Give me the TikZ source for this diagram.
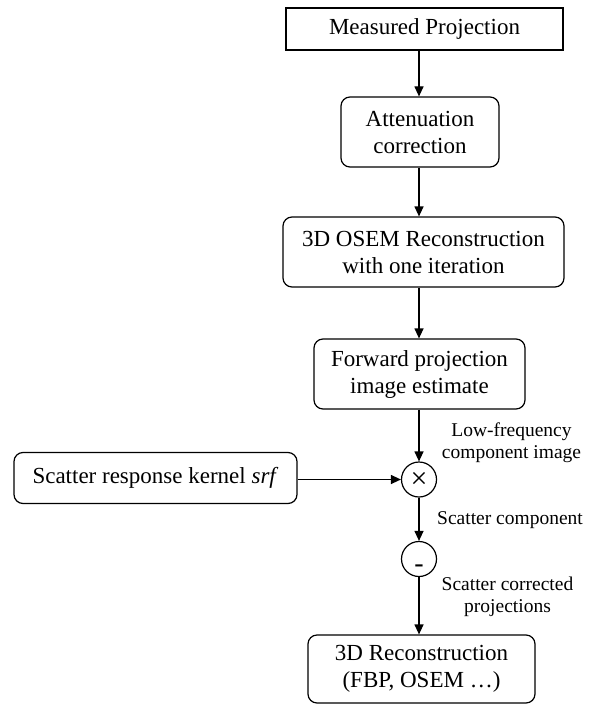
\documentclass[tikz,border=0pt]{standalone}
\usepackage{fontspec}
\setmainfont{Liberation Serif}
\usetikzlibrary{arrows.meta}
\begin{document}
\begin{tikzpicture}[x=1pt,y=-1pt,
  boxtext/.style={font=\fontsize{23}{27}\selectfont, align=center, inner sep=0pt},
  sqbox/.style={boxtext, draw, line width=1.2pt},
  rbox/.style={boxtext, draw, line width=1.2pt, rounded corners=9pt},
  lbl/.style={font=\fontsize{19.5}{21.5}\selectfont, align=center, inner sep=0pt},
  opnode/.style={draw, circle, line width=1.2pt, minimum size=35pt, inner sep=0pt, text depth=0pt},
  arr/.style={line width=1.2pt, -{Triangle[length=10pt,width=9pt]}}]
\useasboundingbox (0,0) rectangle (599,706);
\coordinate (col) at (419,0);
\node[sqbox, minimum width=277pt, minimum height=42pt] (mp) at (424.5,29) {Measured Projection};
\node[rbox, minimum width=158pt, minimum height=70pt] (att) at (420,132) {Attenuation\\correction};
\node[rbox, minimum width=281pt, minimum height=70pt] (osem) at (423.5,252) {3D OSEM Reconstruction\\with one iteration};
\node[rbox, minimum width=211pt, minimum height=70pt] (fwd) at (419.5,374) {Forward projection\\image estimate};
\node[opnode, font=\fontsize{30}{30}\selectfont, text height=17.4pt] (mul) at (419,479.5) {×};
\node[rbox, minimum width=283pt, minimum height=51pt] (srf) at (155.5,478) {Scatter response kernel \textit{srf}};
\node[opnode, font=\fontsize{28}{28}\selectfont, text height=27pt] (sub) at (419,559) {-};
\node[rbox, minimum width=227pt, minimum height=68pt] (rec) at (421.5,669) {3D Reconstruction\\(FBP, OSEM \dots)};
\node[lbl] (l1) at (511.5,442.5) {Low-frequency\\component image};
\node[lbl] (l2) at (510,520) {Scatter component};
\node[lbl] (l3) at (507.5,597) {Scatter corrected\\projections};
\draw[arr] (mp.south -| col) -- (att.north -| col);
\draw[arr] (att.south -| col) -- (osem.north -| col);
\draw[arr] (osem.south -| col) -- (fwd.north -| col);
\draw[arr] (fwd.south -| col) -- (mul.north);
\draw[arr] (srf.east |- mul) -- (mul.west);
\draw[arr] (mul.south) -- (sub.north);
\draw[arr] (sub.south) -- (rec.north -| col);
\end{tikzpicture}
\end{document}
